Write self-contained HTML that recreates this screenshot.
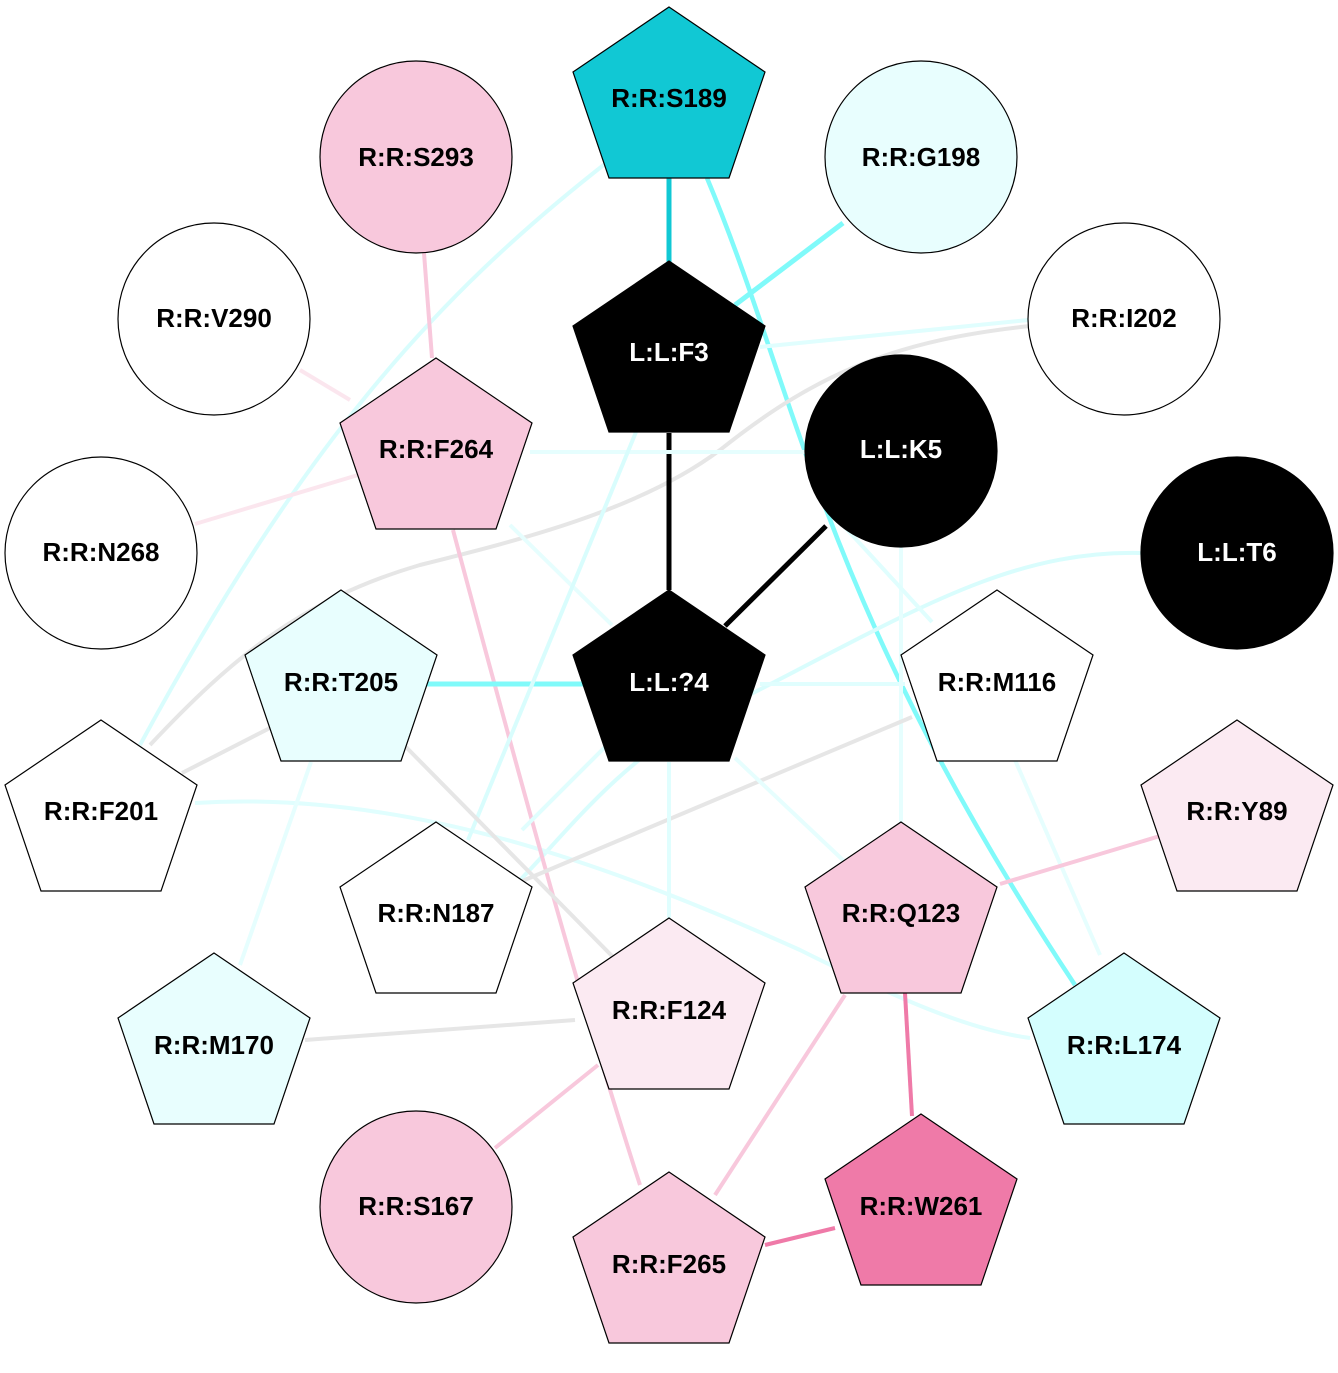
<!DOCTYPE html>
<html><head><meta charset="utf-8"><style>
html,body{margin:0;padding:0;background:#fff}
svg text{font-family:"Liberation Sans",sans-serif;font-weight:bold;font-size:26px;text-anchor:middle;dominant-baseline:central}
</style></head><body>
<svg width="1338" height="1368" viewBox="0 0 1338 1368" xmlns="http://www.w3.org/2000/svg">
<defs>
<polygon id="pg" points="0,-91 96,-26 60,80 -60,80 -96,-26" stroke="#000" stroke-width="1.2"/>
</defs>
<g fill="none" stroke-width="4">
<path d="M610,160 C430,300 300,450 140,745" stroke="#d9fdfd"/>
<path d="M707,178 C800,400 820,600 1075,985" stroke="#80fafa" stroke-width="4.5"/>
<path d="M1030,326 C900,340 820,370 720,450 C640,510 520,540 420,565 C300,600 230,660 150,745" stroke="#e6e6e6"/>
<path d="M1141,553 C1000,550 900,620 700,720 C620,760 560,840 520,880" stroke="#d9fdfd"/>
<path d="M195,803 C400,790 600,860 800,950 C900,1000 970,1030 1030,1038" stroke="#e0fefe"/>
<path d="M453,530 C520,780 580,1000 640,1185" stroke="#f8c8dc"/>
<line x1="669" y1="178" x2="669" y2="262" stroke="#11c8d4" stroke-width="5"/>
<line x1="843" y1="223" x2="735" y2="305" stroke="#80fafa" stroke-width="5"/>
<line x1="424" y1="253" x2="432" y2="358" stroke="#f8c8dc"/>
<line x1="300" y1="370" x2="350" y2="400" stroke="#fbe6ee"/>
<line x1="195" y1="524" x2="358" y2="475" stroke="#fbe6ee"/>
<line x1="669" y1="433" x2="669" y2="590" stroke="#000" stroke-width="5"/>
<line x1="826" y1="526" x2="725" y2="626" stroke="#000" stroke-width="5"/>
<line x1="1028" y1="320" x2="760" y2="347" stroke="#e0fefe"/>
<line x1="530" y1="452" x2="806" y2="452" stroke="#e6fefe"/>
<line x1="427" y1="684" x2="585" y2="684" stroke="#80fafa" stroke-width="5"/>
<line x1="760" y1="684" x2="905" y2="684" stroke="#e0fefe"/>
<line x1="510" y1="525" x2="612" y2="625" stroke="#e6fefe"/>
<line x1="636" y1="432" x2="468" y2="840" stroke="#d9fdfd"/>
<line x1="901" y1="547" x2="901" y2="822" stroke="#e6fefe"/>
<line x1="820" y1="500" x2="932" y2="622" stroke="#e0fefe"/>
<line x1="405" y1="746" x2="612" y2="956" stroke="#e6e6e6"/>
<line x1="311" y1="762" x2="240" y2="965" stroke="#e6fefe"/>
<line x1="182" y1="773" x2="270" y2="728" stroke="#e6e6e6"/>
<line x1="912" y1="717" x2="520" y2="882" stroke="#e6e6e6"/>
<line x1="606" y1="746" x2="522" y2="830" stroke="#e0fefe"/>
<line x1="669" y1="762" x2="669" y2="918" stroke="#e0fefe"/>
<line x1="735" y1="758" x2="845" y2="862" stroke="#e6fefe"/>
<line x1="1015" y1="760" x2="1100" y2="955" stroke="#e6fefe"/>
<line x1="1160" y1="836" x2="1000" y2="884" stroke="#f8c8dc"/>
<line x1="905" y1="993" x2="912" y2="1116" stroke="#ef7aa8"/>
<line x1="845" y1="995" x2="715" y2="1195" stroke="#f8c8dc"/>
<line x1="765" y1="1245" x2="835" y2="1228" stroke="#ef7aa8"/>
<line x1="305" y1="1040" x2="575" y2="1020" stroke="#e6e6e6"/>
<line x1="598" y1="1065" x2="495" y2="1148" stroke="#f8c8dc"/>
</g>
<g stroke="#000" stroke-width="1.2">
<circle cx="416" cy="157" r="96" fill="#f8c8dc"/>
<circle cx="921" cy="157" r="96" fill="#e8fefe"/>
<circle cx="214" cy="319" r="96" fill="#fff"/>
<circle cx="1124" cy="319" r="96" fill="#fff"/>
<circle cx="901" cy="451" r="96" fill="#000"/>
<circle cx="101" cy="553" r="96" fill="#fff"/>
<circle cx="1237" cy="553" r="96" fill="#000"/>
<circle cx="416" cy="1207" r="96" fill="#f8c8dc"/>
</g>
<use href="#pg" x="669" y="98" fill="#11c8d4"/>
<use href="#pg" x="669" y="352" fill="#000"/>
<use href="#pg" x="436" y="449" fill="#f8c8dc"/>
<use href="#pg" x="341" y="681" fill="#e8fefe"/>
<use href="#pg" x="669" y="681" fill="#000"/>
<use href="#pg" x="997" y="681" fill="#fff"/>
<use href="#pg" x="101" y="811" fill="#fff"/>
<use href="#pg" x="1237" y="811" fill="#fbeaf2"/>
<use href="#pg" x="436" y="913" fill="#fff"/>
<use href="#pg" x="901" y="913" fill="#f8c8dc"/>
<use href="#pg" x="669" y="1009" fill="#fbeaf2"/>
<use href="#pg" x="214" y="1044" fill="#e8fefe"/>
<use href="#pg" x="1124" y="1044" fill="#d4fefe"/>
<use href="#pg" x="921" y="1205" fill="#ef7aa8"/>
<use href="#pg" x="669" y="1263" fill="#f8c8dc"/>
<g fill="#000">
<text x="669" y="98">R:R:S189</text>
<text x="416" y="157">R:R:S293</text>
<text x="921" y="157">R:R:G198</text>
<text x="214" y="318">R:R:V290</text>
<text x="1124" y="318">R:R:I202</text>
<text x="436" y="449">R:R:F264</text>
<text x="101" y="552">R:R:N268</text>
<text x="341" y="682">R:R:T205</text>
<text x="997" y="682">R:R:M116</text>
<text x="101" y="811">R:R:F201</text>
<text x="1237" y="811">R:R:Y89</text>
<text x="436" y="913">R:R:N187</text>
<text x="901" y="913">R:R:Q123</text>
<text x="669" y="1010">R:R:F124</text>
<text x="214" y="1045">R:R:M170</text>
<text x="1124" y="1045">R:R:L174</text>
<text x="416" y="1206">R:R:S167</text>
<text x="921" y="1206">R:R:W261</text>
<text x="669" y="1264">R:R:F265</text>
</g>
<g fill="#fff">
<text x="669" y="352">L:L:F3</text>
<text x="901" y="449">L:L:K5</text>
<text x="1237" y="552">L:L:T6</text>
<text x="669" y="682">L:L:?4</text>
</g>
</svg>
</body></html>
